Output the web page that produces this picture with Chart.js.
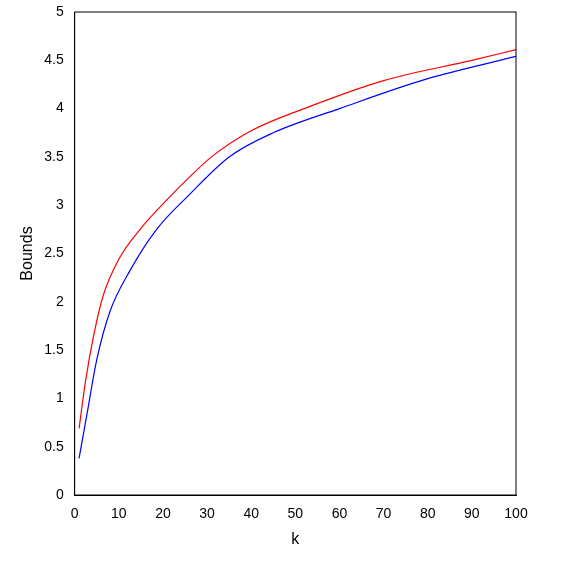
<!DOCTYPE html>
<html><head><meta charset="utf-8">
<script src="https://cdn.jsdelivr.net/npm/chart.js@4"></script>
<style>body{margin:0;background:#fff}#wrap{width:568px;height:563px}</style>
</head><body><div id="wrap"><canvas id="c"></canvas></div>
<script>
const kUpper = [1, 2.5, 4.3, 6.5, 10, 15, 21, 26, 31, 40, 52, 70, 90, 100];
const upper = [0.69, 1.19, 1.65, 2.07, 2.44, 2.76, 3.06, 3.29, 3.50, 3.77, 4.00, 4.29, 4.50, 4.61];
const kLower = [1, 2.8, 5, 8, 12.5, 18.4, 26, 35, 45, 60, 80, 100];
const lower = [0.38, 0.84, 1.40, 1.90, 2.32, 2.74, 3.11, 3.50, 3.75, 4.00, 4.31, 4.54];

const pts = (xs, ys) => xs.map((k, i) => ({x: k, y: ys[i]}));

const frame = {
  id: 'frame',
  afterDraw(chart) {
    const a = chart.chartArea, g = chart.ctx;
    g.save(); g.strokeStyle = '#000'; g.lineWidth = 1;
    g.strokeRect(a.left, a.top, a.right - a.left, a.bottom - a.top);
    g.restore();
  }
};

new Chart(document.getElementById('c'), {
  type: 'line',
  data: {
    datasets: [
      {data: pts(kUpper, upper), borderColor: '#ff0000', borderWidth: 1.2, pointRadius: 0, cubicInterpolationMode: 'monotone'},
      {data: pts(kLower, lower), borderColor: '#0000ff', borderWidth: 1.2, pointRadius: 0, cubicInterpolationMode: 'monotone'}
    ]
  },
  options: {
    animation: false, responsive: true, maintainAspectRatio: false,
    layout: {padding: {top: 12, right: 52, left: 14, bottom: 10}},
    plugins: {legend: {display: false}, tooltip: {enabled: false}},
    scales: {
      x: {type: 'linear', min: 0, max: 100,
        grid: {display: false}, border: {color: '#000'},
        ticks: {stepSize: 10, color: '#000', font: {family: 'Liberation Sans', size: 14}},
        title: {display: true, text: 'k', color: '#000', font: {family: 'Liberation Sans', size: 16}}},
      y: {min: 0, max: 5,
        grid: {display: false}, border: {color: '#000'},
        ticks: {stepSize: 0.5, color: '#000', font: {family: 'Liberation Sans', size: 14}, callback: v => String(v)},
        title: {display: true, text: 'Bounds', color: '#000', font: {family: 'Liberation Sans', size: 16}}}
    }
  },
  plugins: [frame]
});
</script></body></html>
